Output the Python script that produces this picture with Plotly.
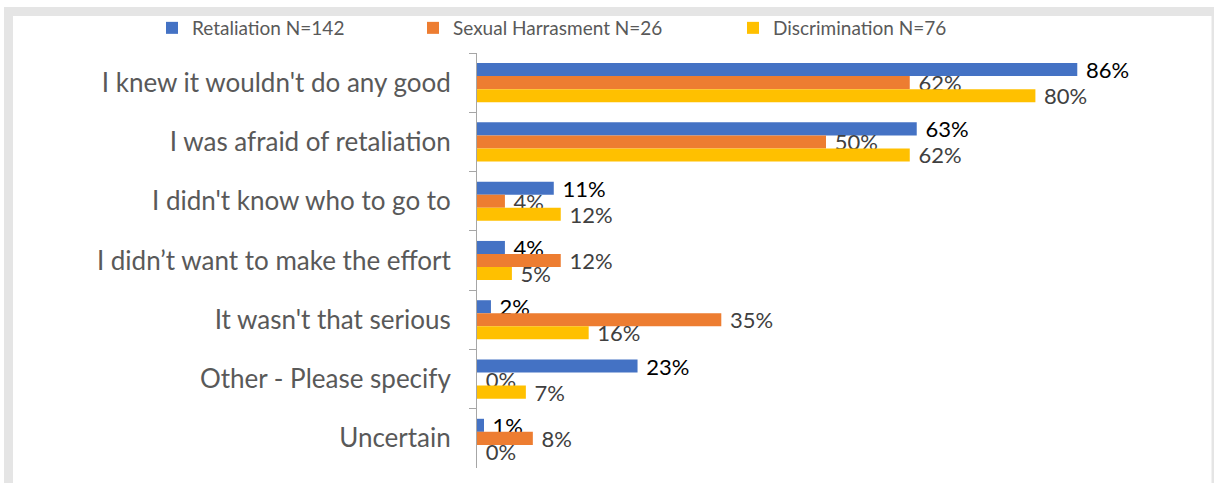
import plotly.graph_objects as go

# Reasons for not reporting, by complaint type (percent of respondents)
categories = [
    "I knew it wouldn't do any good",
    "I was afraid of retaliation",
    "I didn't know who to go to",
    "I didn\u2019t want to make the effort",
    "It wasn't that serious",
    "Other - Please specify",
    "Uncertain",
]
series_names = ["Retaliation N=142", "Sexual Harrasment N=26", "Discrimination N=76"]
retaliation = [86, 63, 11, 4, 2, 23, 1]
sexual_harassment = [62, 50, 4, 12, 35, 0, 8]
discrimination = [80, 62, 12, 5, 16, 7, 0]

W, H = 1214, 483
ML, MR, MT, MB = 477, 39, 53, 15
FONT = "Lato, 'Liberation Sans', Arial, sans-serif"

colors = ["#4472C4", "#ED7D31", "#FFC000"]
label_colors = ["#000000", "#404040", "#404040"]
legend_ids = ["legend", "legend2", "legend3"]
legend_x = [152, 413, 733]

fig = go.Figure()
for name, vals, col, lcol, lid in zip(
    series_names, [retaliation, sexual_harassment, discrimination],
    colors, label_colors, legend_ids
):
    fig.add_trace(go.Bar(
        y=categories, x=vals, name=name, orientation="h",
        marker=dict(color=col, line=dict(width=0)),
        texttemplate="\u00a0%{x}%", textposition="outside",
        constraintext="none", cliponaxis=False,
        textfont=dict(family=FONT, size=22, color=lcol),
        legend=lid,
    ))

# pixel -> paper helpers for the frame
def px(x):
    return (x - ML) / (W - ML - MR)

def py(y):
    return (H - MB - y) / (H - MT - MB)

legend_common = dict(
    orientation="h", xref="container", yref="container",
    yanchor="middle", xanchor="left",
    font=dict(family=FONT, size=19, color="#595959"),
    bgcolor="rgba(0,0,0,0)", borderwidth=0,
)
layout_legends = {}
for lid, lx in zip(legend_ids, legend_x):
    layout_legends[lid] = dict(legend_common, x=lx / W, y=1 - 28 / H)

fig.update_layout(
    width=W, height=H,
    margin=dict(l=ML, r=MR, t=MT, b=MB, autoexpand=False),
    paper_bgcolor="white", plot_bgcolor="white",
    barmode="group", bargap=0.34, bargroupgap=0,
    showlegend=True,
    xaxis=dict(range=[0, 100], visible=False, showgrid=False, zeroline=False),
    yaxis=dict(
        autorange="reversed", tickson="boundaries",
        ticks="outside", ticklen=7, tickcolor="#A6A6A6", tickwidth=1,
        showline=True, linecolor="#A6A6A6", linewidth=1,
        showgrid=False, ticklabelstandoff=20,
        tickfont=dict(family=FONT, size=26, color="#595959"),
    ),
    shapes=[dict(
        type="rect", xref="paper", yref="paper",
        x0=px(8.5), x1=px(1216), y0=py(11.5), y1=py(500),
        line=dict(color="#E5E5E5", width=9), fillcolor="rgba(0,0,0,0)",
        layer="below",
    )],
    **layout_legends,
)

fig.write_html("out.html")
